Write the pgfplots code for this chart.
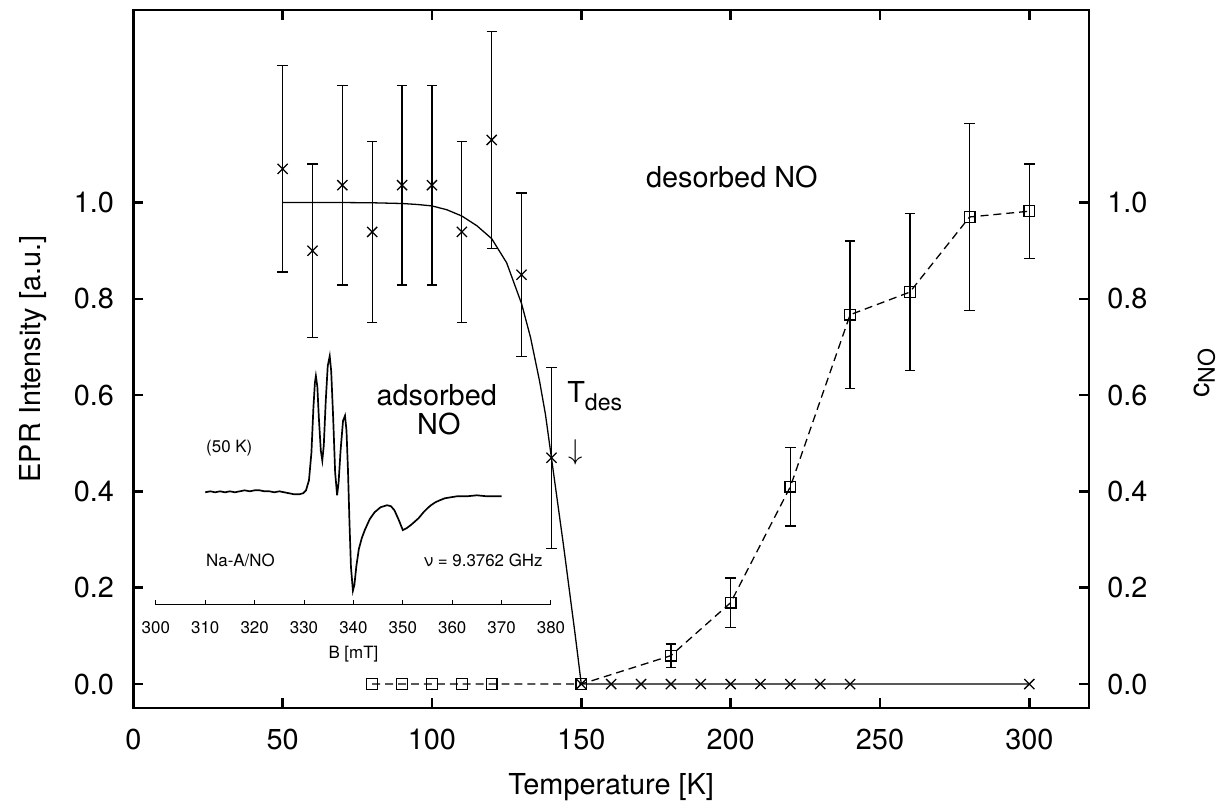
\documentclass[border=0pt]{standalone}
\usepackage{pgfplots}
\usepackage{pgfplotstable}
\pgfplotsset{compat=1.18}
\usepackage{fontspec}
\setmainfont{TeX Gyre Heros}

\pgfplotstableread{
T I e
50 1.070 0.214
60 0.900 0.180
70 1.036 0.207
80 0.939 0.188
90 1.036 0.207
100 1.036 0.207
110 0.939 0.188
120 1.130 0.225
130 0.850 0.170
140 0.470 0.188
}\eprdata

\pgfplotstableread{
T c e
180 0.059 0.024
200 0.169 0.051
220 0.410 0.082
240 0.767 0.153
260 0.814 0.163
280 0.970 0.194
300 0.982 0.098
}\cnodata

\pgfplotstableread{
B s
310 0
311 1
312 0
313 1
314 0
315 1
316 0
317 1
318 2
319 1
320 2
321 2
322 1
323 1
324 0
325 1
326 0
327 -1
328 -2
329 -2
329.8 -1
330.4 2
331.0 12
331.5 40
331.9 85
332.2 110
332.4 117
332.7 106
333.0 75
333.4 42
333.7 32
334.0 47
334.4 92
334.8 127
335.2 137
335.5 122
335.9 75
336.3 20
336.7 -3
337.0 10
337.4 42
337.9 72
338.3 77
338.6 62
338.9 22
339.2 -30
339.5 -75
339.9 -99
340.2 -93
340.6 -74
341.1 -57
341.7 -46
342.3 -38
343.3 -27
344.3 -20
345.5 -15
346.8 -13
347.6 -14
348.3 -18
349.2 -28
350.0 -38
350.8 -36
351.6 -33
352.3 -30
353.2 -26
354.2 -20
355.0 -16
355.7 -13
356.6 -10
357.5 -8
358.5 -6
359.7 -5
361 -4
363 -4
365 -3
367 -4
370 -4
}\spectrum

\pgfplotsset{/pgf/number format/assume math mode=true}

\begin{document}
\fontsize{14.5}{17}\selectfont
\begin{tikzpicture}
\begin{axis}[name=main, scale only axis, width=480.5pt, height=351pt,
  xmin=0, xmax=320, ymin=-0.05, ymax=1.4,
  xtick={0,50,100,150,200,250,300},
  ytick={0,0.2,0.4,0.6,0.8,1.0},
  ytick pos=left,
  tick align=inside, major tick length=5pt,
  axis line style={line width=1.3pt},
  every tick/.style={black, line width=1.3pt},
  tick label style={font=\fontsize{14.5}{17}\selectfont},
  yticklabel style={/pgf/number format/fixed, /pgf/number format/fixed zerofill, /pgf/number format/precision=1, xshift=-4.7pt},
  xticklabel style={yshift=-5.7pt},
  label style={font=\fontsize{14.5}{17}\selectfont},
  xlabel={Temperature [K]},
  xlabel style={at={(axis description cs:0.5,-0.124)}, anchor=base},
  ylabel={EPR Intensity [a.u.]},
  ylabel style={at={(axis description cs:-0.0968,0.5)}, anchor=base},
  error bars/error bar style={line width=0.65pt, solid},
  error bars/error mark options={rotate=90, mark size=2.6pt, line width=0.65pt, solid},
]
% fit curve
\addplot[black, line width=0.65pt, no marks] coordinates {
(50,1.0) (60,1.0) (70,1.0) (80,0.9995) (90,0.998) (95,0.996) (100,0.993)
(105,0.985) (110,0.972) (115,0.952) (120,0.925) (125,0.875) (130,0.79)
(133,0.72) (136,0.63) (138,0.56) (140,0.47) (142,0.38) (144,0.29)
(146,0.195) (148,0.10) (150,0.0) (300,0.0)};
% EPR intensity points with error bars
\addplot[black, only marks, mark=x, mark size=3.6pt, mark options={line width=0.65pt},
  error bars/.cd, y dir=both, y explicit]
  table[x=T, y=I, y error=e] {\eprdata};
\addplot[black, only marks, mark=x, mark size=3.6pt, mark options={line width=0.65pt}]
  coordinates {(150,0) (160,0) (170,0) (180,0) (190,0) (200,0) (210,0) (220,0) (230,0) (240,0) (300,0)};
% c_NO dashed line
\addplot[black, line width=0.65pt, dash pattern=on 4pt off 2.5pt, no marks] coordinates {
(80,0) (90,0) (100,0) (110,0) (120,0) (150,0) (180,0.059) (200,0.169)
(220,0.410) (240,0.767) (260,0.814) (280,0.970) (300,0.982)};
\addplot[black, only marks, mark=square, mark size=2.7pt, mark options={line width=0.65pt, solid},
  error bars/.cd, y dir=both, y explicit]
  table[x=T, y=c, y error=e] {\cnodata};
\addplot[black, only marks, mark=square, mark size=2.7pt, mark options={line width=0.65pt, solid}]
  coordinates {(80,0) (90,0) (100,0) (110,0) (120,0) (150,0)};
% annotations
\node[anchor=base, inner sep=0] at (axis cs:200.4,1.031) {desorbed NO};
\node[anchor=base, inner sep=0] at (axis cs:101.6,0.5785) {adsorbed};
\node[anchor=base, inner sep=0] at (axis cs:102.3,0.5186) {NO};
\node[anchor=base west, inner sep=0] at (axis cs:145.2,0.585) {T\raisebox{-4pt}{\fontsize{11.6}{12}\selectfont des}};
\node[inner sep=0] at (axis cs:148.2,0.481) {$\downarrow$};
\node[anchor=base west, inner sep=0, font=\fontsize{8.5}{10}\selectfont] at (axis cs:24.3,0.481) {(50 K)};
\node[anchor=base west, inner sep=0, font=\fontsize{8.5}{10}\selectfont] at (axis cs:24.3,0.245) {Na-A/NO};
\node[anchor=base east, inner sep=0, font=\fontsize{8.5}{10}\selectfont] at (axis cs:137.2,0.245) {ν = 9.3762 GHz};
\end{axis}

% right axis (c_NO)
\begin{axis}[scale only axis, width=480.5pt, height=351pt,
  at={(main.south west)}, anchor=south west,
  xmin=0, xmax=320, ymin=-0.05, ymax=1.4,
  axis x line=none, axis y line*=right,
  ytick={0,0.2,0.4,0.6,0.8,1.0},
  tick align=inside, major tick length=5pt,
  axis line style={line width=1.3pt},
  every tick/.style={black, line width=1.3pt},
  tick label style={font=\fontsize{14.5}{17}\selectfont},
  yticklabel style={/pgf/number format/fixed, /pgf/number format/fixed zerofill, /pgf/number format/precision=1, xshift=4.2pt},
  label style={font=\fontsize{14.5}{17}\selectfont},
  ylabel={c\raisebox{-3pt}{\fontsize{11.6}{12}\selectfont NO}},
  ylabel style={at={(axis description cs:1.1255,0.48)}, anchor=base, rotate=0},
]
\addplot[draw=none, forget plot] coordinates {(0,0)};
\end{axis}

% inset spectrum
\begin{axis}[at={(main.south west)}, anchor=south west, xshift=11.35pt, yshift=52pt,
  scale only axis, width=198.65pt, height=125pt,
  xmin=300, xmax=380, ymin=-113, ymax=137,
  axis x line*=bottom, axis y line=none,
  xtick={300,310,320,330,340,350,360,370,380},
  tick align=inside, major tick length=2.5pt,
  axis line style={line width=0.5pt},
  every tick/.style={black, line width=0.5pt},
  tick label style={font=\fontsize{8.5}{10}\selectfont},
  xticklabel style={yshift=-3.2pt},
  xlabel={B [mT]},
  xlabel style={font=\fontsize{8.5}{10}\selectfont, at={(axis description cs:0.5,-0.215)}, anchor=base},
  clip=false,
]
\addplot[black, line width=0.85pt, no marks] table[x=B, y=s] {\spectrum};
\end{axis}

\path (main.south west) ++(-67pt,-45.5pt) rectangle ++(612.5pt,401.5pt);
\end{tikzpicture}
\end{document}
